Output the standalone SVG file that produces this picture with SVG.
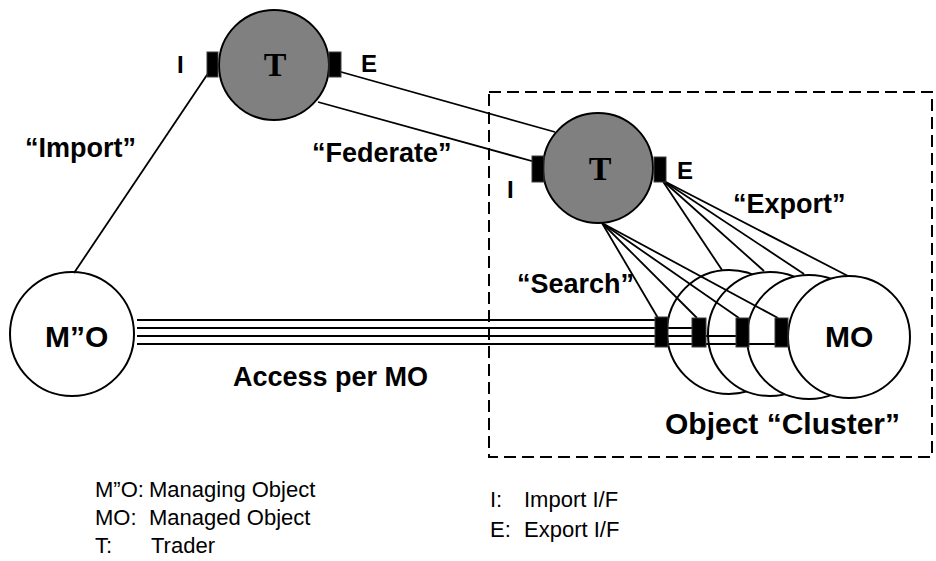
<svg xmlns="http://www.w3.org/2000/svg" width="936" height="561" viewBox="0 0 936 561">
  <style>
    .lbl { font-family: "Liberation Sans", Arial, sans-serif; font-weight: bold; font-size: 27px; fill: #000; }
    .plbl { font-family: "Liberation Sans", Arial, sans-serif; font-weight: bold; font-size: 24px; fill: #000; }
    .name { font-family: "Liberation Sans", Arial, sans-serif; font-weight: bold; font-size: 30px; fill: #000; }
    .leg { font-family: "Liberation Sans", Arial, sans-serif; font-size: 22px; fill: #000; }
    .tr { font-family: "Liberation Serif", "Times New Roman", serif; font-weight: bold; font-size: 34px; fill: #000; text-anchor: middle; }
    .trader { fill: #808080; stroke: #000; stroke-width: 2; }
    .obj { fill: #fff; stroke: #000; stroke-width: 2; }
    .port { fill: #000; stroke: #3c3c3c; stroke-width: 1; }
    .ln { fill: none; stroke: #000; stroke-width: 1.8; }
    .cluster-box { fill: none; stroke: #000; stroke-width: 2; stroke-dasharray: 12 6; }
  </style>

  <!-- object cluster boundary -->
  <g id="cluster-boundary">
    <rect class="cluster-box" x="489" y="92" width="443" height="365"/>
  </g>

  <!-- upper trader -->
  <g id="trader-top">
    <circle class="trader" cx="274" cy="65" r="55"/>
    <text class="tr" x="275" y="76">T</text>
  </g>

  <!-- cluster trader -->
  <g id="trader-cluster">
    <circle class="trader" cx="598" cy="168" r="55"/>
    <text class="tr" x="600" y="180">T</text>
  </g>

  <!-- managing object -->
  <g id="managing-object">
    <circle class="obj" cx="72" cy="334" r="62"/>
    <text class="name" x="45" y="347">M”O</text>
  </g>

  <!-- managed objects, stacked back to front -->
  <g id="managed-objects">
    <circle class="obj" cx="729" cy="332" r="62"/>
    <circle class="obj" cx="770" cy="334" r="62"/>
    <circle class="obj" cx="809" cy="337" r="62"/>
    <circle class="obj" cx="849" cy="337" r="61"/>
    <text class="name" x="825" y="347">MO</text>
  </g>

  <!-- connectors -->
  <g id="connectors" class="ln">
    <!-- import -->
    <line x1="74" y1="273" x2="213" y2="66"/>
    <!-- federate -->
    <line x1="334" y1="70" x2="555" y2="132"/>
    <line x1="318" y1="102" x2="539" y2="163"/>
    <!-- access per MO -->
    <line x1="137" y1="320" x2="661" y2="320"/>
    <line x1="137" y1="328" x2="699" y2="328"/>
    <line x1="137" y1="336" x2="742" y2="336"/>
    <line x1="137" y1="344" x2="781" y2="344"/>
    <!-- search -->
    <line x1="602" y1="223" x2="658" y2="318"/>
    <line x1="602" y1="223" x2="697" y2="318"/>
    <line x1="602" y1="223" x2="739" y2="318"/>
    <line x1="602" y1="223" x2="778" y2="318"/>
    <!-- export -->
    <line x1="662" y1="180" x2="722" y2="270"/>
    <line x1="662" y1="180" x2="764" y2="271"/>
    <line x1="662" y1="180" x2="804" y2="274"/>
    <line x1="662" y1="180" x2="848" y2="276"/>
  </g>

  <!-- interface ports -->
  <g id="ports-top-trader">
    <rect class="port" x="207" y="52" width="11" height="25"/>
    <rect class="port" x="329" y="52" width="12" height="25"/>
    <text class="plbl" x="177" y="73">I</text>
    <text class="plbl" x="361" y="72">E</text>
  </g>
  <g id="ports-cluster-trader">
    <rect class="port" x="532" y="156" width="12" height="26"/>
    <rect class="port" x="654" y="157" width="12" height="25"/>
    <text class="plbl" x="507" y="198">I</text>
    <text class="plbl" x="677" y="179">E</text>
  </g>
  <g id="ports-managed-objects">
    <rect class="port" x="655" y="317" width="13" height="30"/>
    <rect class="port" x="692" y="318" width="14" height="29"/>
    <rect class="port" x="736" y="318" width="13" height="29"/>
    <rect class="port" x="775" y="318" width="13" height="29"/>
  </g>

  <!-- connector labels -->
  <g id="labels">
    <text class="lbl" x="25" y="157">“Import”</text>
    <text class="lbl" x="312" y="162">“Federate”</text>
    <text class="lbl" x="733" y="213">“Export”</text>
    <text class="lbl" x="517" y="293">“Search”</text>
    <text class="lbl" x="233" y="386">Access per MO</text>
    <text class="lbl" x="665" y="434" style="font-size:30px">Object “Cluster”</text>
  </g>

  <!-- legend -->
  <g id="legend">
    <text class="leg" x="95" y="497">M”O:<tspan x="149">Managing Object</tspan></text>
    <text class="leg" x="95" y="525">MO:<tspan x="149">Managed Object</tspan></text>
    <text class="leg" x="95" y="553">T:<tspan x="151">Trader</tspan></text>
    <text class="leg" x="490" y="507">I:<tspan x="524">Import I/F</tspan></text>
    <text class="leg" x="490" y="537">E:<tspan x="524">Export I/F</tspan></text>
  </g>
</svg>
